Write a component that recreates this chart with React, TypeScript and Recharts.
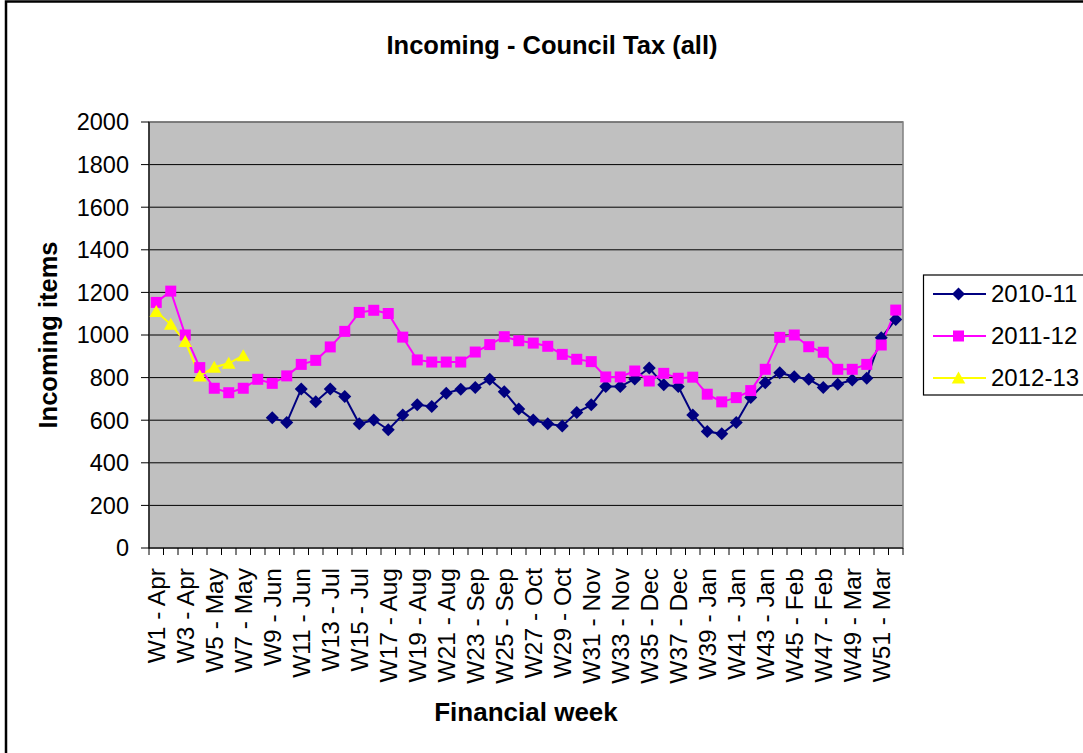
import React from 'react';
import { ComposedChart, Line, XAxis, YAxis, CartesianGrid, ReferenceArea } from 'recharts';

const weeks = [
  'W1 - Apr', 'W2 - Apr', 'W3 - Apr', 'W4 - Apr', 'W5 - May', 'W6 - May', 'W7 - May', 'W8 - May',
  'W9 - Jun', 'W10 - Jun', 'W11 - Jun', 'W12 - Jun', 'W13 - Jul', 'W14 - Jul', 'W15 - Jul', 'W16 - Jul',
  'W17 - Aug', 'W18 - Aug', 'W19 - Aug', 'W20 - Aug', 'W21 - Aug', 'W22 - Aug', 'W23 - Sep', 'W24 - Sep',
  'W25 - Sep', 'W26 - Sep', 'W27 - Oct', 'W28 - Oct', 'W29 - Oct', 'W30 - Oct', 'W31 - Nov', 'W32 - Nov',
  'W33 - Nov', 'W34 - Nov', 'W35 - Dec', 'W36 - Dec', 'W37 - Dec', 'W38 - Dec', 'W39 - Jan', 'W40 - Jan',
  'W41 - Jan', 'W42 - Jan', 'W43 - Jan', 'W44 - Feb', 'W45 - Feb', 'W46 - Feb', 'W47 - Feb', 'W48 - Mar',
  'W49 - Mar', 'W50 - Mar', 'W51 - Mar', 'W52 - Mar',
];

const s2010_11: (number | null)[] = [
  null, null, null, null, null, null, null, null,
  612, 589, 747, 687, 747, 711, 583, 601,
  555, 625, 672, 664, 727, 745, 753, 792,
  734, 653, 601, 583, 573, 636, 672, 758,
  758, 794, 845, 766, 758, 625, 547, 536,
  589, 706, 776, 823, 804, 792, 753, 769,
  789, 797, 987, 1073,
];

const s2011_12: (number | null)[] = [
  1153, 1206, 1000, 847, 750, 729, 750, 792,
  773, 808, 862, 881, 944, 1017, 1106, 1116,
  1101, 990, 883, 873, 873, 873, 920, 955,
  992, 973, 962, 947, 909, 886, 875, 803,
  803, 831, 784, 820, 797, 802, 722, 686,
  706, 739, 839, 989, 1000, 945, 919, 839,
  839, 862, 953, 1117,
];

const s2012_13: (number | null)[] = [1110, 1050, 969, 808, 849, 867, 903];

const yTicks = [0, 200, 400, 600, 800, 1000, 1200, 1400, 1600, 1800, 2000];

const seriesNames = ['2010-11', '2011-12', '2012-13'];
const seriesColors = ['#000080', '#FF00FF', '#FFFF00'];
const seriesShapes = ['diamond', 'square', 'triangle'];
const seriesValues = [s2010_11, s2011_12, s2012_13];

const data = weeks.map((w, i) => ({
  week: w,
  a: s2010_11[i] ?? null,
  b: s2011_12[i] ?? null,
  c: s2012_13[i] ?? null,
}));
const keys = ['a', 'b', 'c'];

const CW = 1083;
const CH = 753;
const MARGIN = { top: 122, right: 180, bottom: 0, left: 0 };
const Y_AXIS_W = 149;
const X_AXIS_H = 205;
const STEP = (CW - MARGIN.left - MARGIN.right - Y_AXIS_W) / weeks.length;
const FONT = '"Liberation Sans", Arial, Helvetica, sans-serif';

function markerPath(shape: string, cx: number, cy: number): string {
  if (shape === 'diamond') {
    const r = 6.5;
    return `M${cx},${cy - r}L${cx + r},${cy}L${cx},${cy + r}L${cx - r},${cy}Z`;
  }
  if (shape === 'square') {
    const h = 5.5;
    return `M${cx - h},${cy - h}H${cx + h}V${cy + h}H${cx - h}Z`;
  }
  const w = 6.8;
  return `M${cx},${cy - 6.5}L${cx + w},${cy + 5.5}L${cx - w},${cy + 5.5}Z`;
}

const makeDot = (shape: string, color: string) => (props: any) => {
  const { cx, cy, index } = props;
  if (cx == null || cy == null || props.value == null || Number.isNaN(cy)) {
    return <g key={`e-${index}`} />;
  }
  return <path key={`d-${index}`} d={markerPath(shape, cx, cy)} fill={color} stroke="none" />;
};

const XTick = (props: any) => {
  const { x, y, payload, index } = props;
  const half = STEP / 2;
  const last = index === weeks.length - 1;
  const ty = y + 20;
  return (
    <g>
      <line x1={x - half} x2={x - half} y1={y} y2={y + 7} stroke="#000" strokeWidth={1} />
      {last && <line x1={x + half} x2={x + half} y1={y} y2={y + 7} stroke="#000" strokeWidth={1} />}
      {index % 2 === 0 && (
        <text
          x={x}
          y={ty}
          transform={`rotate(-90 ${x} ${ty})`}
          textAnchor="end"
          dy="0.35em"
          fontSize={24.5}
          fill="#000"
          fontFamily={FONT}
        >
          {payload.value}
        </text>
      )}
    </g>
  );
};

export default function App() {
  const legendTop = 275;
  const legendRowY = [294, 336, 378];
  return (
    <div
      style={{
        position: 'fixed',
        left: 0,
        top: 0,
        width: CW,
        height: CH,
        overflow: 'hidden',
        background: '#fff',
        fontFamily: FONT,
      }}
    >
      <ComposedChart width={CW} height={CH} data={data} margin={MARGIN}>
        <CartesianGrid vertical={false} stroke="#000" strokeWidth={1} fill="#C0C0C0" fillOpacity={1} />
        <ReferenceArea y1={0} y2={2000} fill="none" stroke="#808080" strokeWidth={1.5} ifOverflow="visible" />
        <XAxis
          dataKey="week"
          scale="band"
          interval={0}
          height={X_AXIS_H}
          tickSize={0}
          tickMargin={0}
          tickLine={false}
          axisLine={{ stroke: '#000', strokeWidth: 1.2 }}
          tick={<XTick />}
        />
        <YAxis
          width={Y_AXIS_W}
          domain={[0, 2000]}
          ticks={yTicks}
          interval={0}
          tickSize={8}
          tickMargin={12}
          tickLine={{ stroke: '#000', strokeWidth: 1 }}
          axisLine={{ stroke: '#000', strokeWidth: 1.2 }}
          tick={{ fill: '#000', fontSize: 23.5, fontFamily: FONT }}
        />
        {keys.map((k, i) => (
          <Line
            key={k}
            dataKey={k}
            name={seriesNames[i]}
            stroke={seriesColors[i]}
            strokeWidth={2}
            dot={makeDot(seriesShapes[i], seriesColors[i])}
            activeDot={false}
            connectNulls={false}
            isAnimationActive={false}
            type="linear"
          />
        ))}
      </ComposedChart>
      <svg
        width={CW}
        height={CH}
        style={{ position: 'absolute', left: 0, top: 0, pointerEvents: 'none' }}
      >
        <rect x={6} y={1.5} width={1300} height={1000} fill="none" stroke="#000" strokeWidth={2.5} />
        <text x={552} y={45} textAnchor="middle" dy="0.35em" fontSize={25.5} fontWeight="bold" fill="#000" fontFamily={FONT}>
          Incoming - Council Tax (all)
        </text>
        <text x={526} y={712} textAnchor="middle" dy="0.35em" fontSize={26} fontWeight="bold" fill="#000" fontFamily={FONT}>
          Financial week
        </text>
        <text
          x={48}
          y={335}
          transform="rotate(-90 48 335)"
          textAnchor="middle"
          dy="0.35em"
          fontSize={25.5}
          fontWeight="bold"
          fill="#000"
          fontFamily={FONT}
        >
          Incoming items
        </text>
        <rect x={923.5} y={legendTop} width={300} height={120} fill="#fff" stroke="#000" strokeWidth={1.2} />
        {seriesNames.map((n, i) => (
          <g key={n}>
            <line x1={933} x2={986} y1={legendRowY[i]} y2={legendRowY[i]} stroke={seriesColors[i]} strokeWidth={2} />
            <path d={markerPath(seriesShapes[i], 958.5, legendRowY[i])} fill={seriesColors[i]} />
            <text x={991} y={legendRowY[i]} dy="0.35em" fontSize={24} fill="#000" fontFamily={FONT}>
              {n}
            </text>
          </g>
        ))}
      </svg>
    </div>
  );
}
